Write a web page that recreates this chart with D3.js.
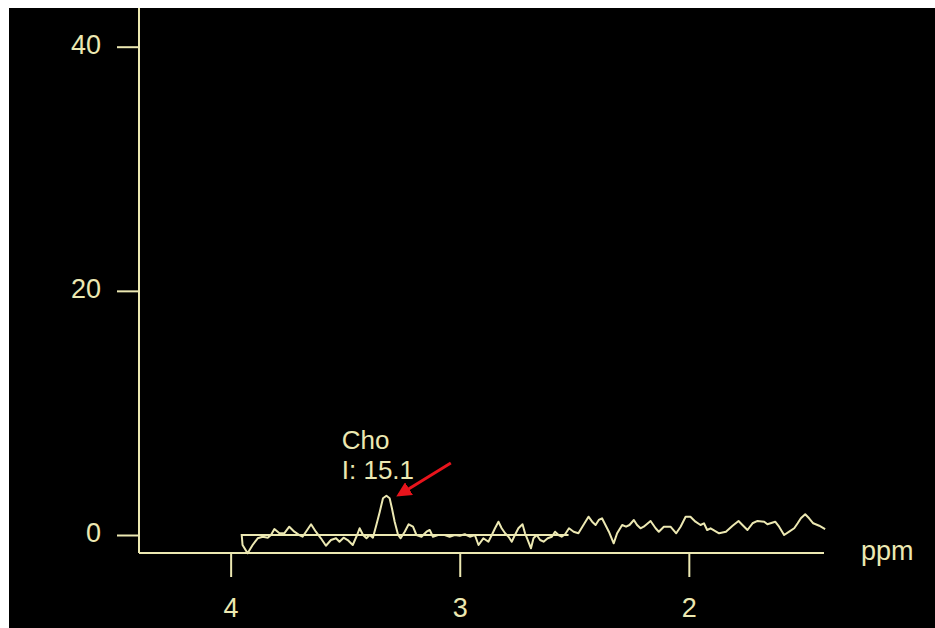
<!DOCTYPE html>
<html>
<head>
<meta charset="utf-8">
<script src="https://cdn.jsdelivr.net/npm/d3@7"></script>
<style>
  body { margin: 0; background: #fff; }
  text { font-family: "Liberation Sans", Arial, sans-serif; fill: #ece8b2; }
</style>
</head>
<body>
<svg id="chart" width="935" height="628"></svg>
<script>
// chemical shift (ppm) and signal intensity
var ppm = [3.952, 3.948, 3.926, 3.904, 3.882, 3.860, 3.838, 3.824, 3.809, 3.787,
  3.766, 3.744, 3.722, 3.700, 3.686, 3.671, 3.649, 3.628, 3.606, 3.584,
  3.562, 3.540, 3.525, 3.507, 3.489, 3.467, 3.448, 3.437, 3.422, 3.407,
  3.393, 3.379, 3.364, 3.349, 3.335, 3.320, 3.306, 3.296, 3.284, 3.269,
  3.258, 3.240, 3.223, 3.204, 3.189, 3.167, 3.145, 3.131, 3.117, 3.095,
  3.066, 3.044, 3.022, 3.000, 2.978, 2.956, 2.934, 2.918, 2.897, 2.875,
  2.860, 2.846, 2.831, 2.817, 2.802, 2.787, 2.773, 2.759, 2.744, 2.726,
  2.715, 2.703, 2.689, 2.678, 2.664, 2.649, 2.634, 2.616, 2.598, 2.584,
  2.569, 2.555, 2.540, 2.523, 2.503, 2.482, 2.460, 2.438, 2.422, 2.407,
  2.393, 2.379, 2.364, 2.349, 2.328, 2.313, 2.291, 2.274, 2.259, 2.240,
  2.226, 2.211, 2.197, 2.167, 2.145, 2.131, 2.109, 2.080, 2.055, 2.036,
  2.014, 1.993, 1.971, 1.949, 1.934, 1.920, 1.905, 1.868, 1.838, 1.809,
  1.783, 1.766, 1.744, 1.722, 1.700, 1.671, 1.657, 1.623, 1.606, 1.584,
  1.562, 1.540, 1.525, 1.511, 1.492, 1.475, 1.457, 1.431, 1.405]
var intensity = [0.08, -0.82, -1.50, -0.82, -0.27, -0.14, -0.22, 0.00, 0.49, 0.14,
  0.14, 0.68, 0.27, 0.00, -0.14, 0.27, 0.88, 0.27, -0.27, -0.88,
  -0.41, -0.27, -0.55, -0.22, -0.41, -0.82, 0.00, 0.55, 0.00, -0.27,
  0.00, -0.22, 0.82, 1.91, 3.01, 3.22, 3.01, 2.19, 1.09, 0.00,
  -0.27, 0.27, 0.88, 0.68, 0.00, -0.14, 0.27, 0.41, -0.14, 0.00,
  0.00, -0.14, 0.00, -0.06, 0.06, -0.14, 0.00, -0.82, -0.27, -0.55,
  0.00, 0.55, 1.09, 0.55, 0.14, -0.14, -0.55, 0.00, 0.55, 0.88,
  0.14, -0.41, -1.09, -0.27, 0.00, -0.41, -0.55, -0.27, -0.14, 0.27,
  0.00, -0.14, 0.06, 0.55, 0.27, 0.14, 0.82, 1.50, 1.09, 0.82,
  1.23, 1.37, 0.82, 0.27, -0.68, 0.14, 0.82, 0.68, 0.82, 1.23,
  0.82, 0.55, 0.68, 1.15, 0.55, 0.27, 0.68, 0.68, 0.14, 0.68,
  1.50, 1.50, 1.09, 0.82, 0.96, 0.41, 0.55, 0.14, 0.27, 0.76,
  1.15, 0.82, 0.41, 0.96, 1.15, 1.09, 0.88, 1.09, 0.68, 0.00,
  0.27, 0.55, 0.96, 1.37, 1.70, 1.37, 0.96, 0.76, 0.49]

var ppmDomain = [4.40, 1.41]
var xTicks = [4, 3, 2]
var yTicks = [0, 20, 40]
var baselineRange = [3.952, 2.525]

var peakName = 'Cho'
var peakLabel = 'I: 15.1'
var labelAt = [3.515, 7.04]
var arrowFrom = [3.039, 5.90]
var arrowTo = [3.266, 3.28]

var ink = '#ece8b2'
var svg = d3.select('#chart')

svg.append('rect').attr('x', 9).attr('y', 8).attr('width', 926).attr('height', 620).attr('fill', '#000')

var x = d3.scaleLinear().domain(ppmDomain).range([139, 824])
var y = d3.scaleLinear().domain([0, 40]).range([535, 46.7])
var axisY = 553

// axis lines
svg.append('line')
  .attr('x1', x.range()[0]).attr('x2', x.range()[0])
  .attr('y1', 8).attr('y2', axisY)
  .attr('stroke', ink).attr('stroke-width', 2)
svg.append('line')
  .attr('x1', x.range()[0]).attr('x2', x.range()[1])
  .attr('y1', axisY).attr('y2', axisY)
  .attr('stroke', ink).attr('stroke-width', 2)

var xAxis = svg.append('g')
  .attr('transform', 'translate(0,' + axisY + ')')
  .call(d3.axisBottom(x).tickValues(xTicks).tickFormat(d3.format('d')).tickSize(24).tickPadding(21))
xAxis.select('.domain').remove()

var yAxis = svg.append('g')
  .attr('transform', 'translate(' + x.range()[0] + ',0)')
  .call(d3.axisLeft(y).tickValues(yTicks).tickSize(22).tickPadding(16))
yAxis.select('.domain').remove()

svg.selectAll('.tick line').attr('stroke', ink).attr('stroke-width', 2)
svg.selectAll('.tick text')
  .style('font-size', '27px')
  .style('font-family', '"Liberation Sans", Arial, sans-serif')
  .attr('fill', ink)
xAxis.selectAll('.tick text').attr('dy', '0.71em')
yAxis.selectAll('.tick text').attr('dy', '0.25em')

svg.append('text')
  .attr('x', 861).attr('y', 560)
  .style('font-size', '27px')
  .text('ppm')

// fitted baseline
svg.append('line')
  .attr('x1', x(baselineRange[0])).attr('x2', x(baselineRange[1]))
  .attr('y1', y(0)).attr('y2', y(0))
  .attr('stroke', ink).attr('stroke-width', 2)

var data = ppm.map(function (p, i) { return { p: p, v: intensity[i] } })

svg.append('path')
  .datum(data)
  .attr('fill', 'none')
  .attr('stroke', ink)
  .attr('stroke-width', 2)
  .attr('stroke-linejoin', 'round')
  .attr('d', d3.line().x(function (d) { return x(d.p) }).y(function (d) { return y(d.v) }))

// peak annotation
svg.append('text')
  .attr('x', x(labelAt[0])).attr('y', y(labelAt[1]))
  .style('font-size', '26px')
  .text(peakName)
svg.append('text')
  .attr('x', x(labelAt[0])).attr('y', y(labelAt[1]) + 30)
  .style('font-size', '26px')
  .text(peakLabel)

svg.append('defs').append('marker')
  .attr('id', 'head')
  .attr('viewBox', '0 0 10 10')
  .attr('refX', 8).attr('refY', 5)
  .attr('markerWidth', 5).attr('markerHeight', 5)
  .attr('orient', 'auto')
  .append('path')
  .attr('d', 'M0,0 L10,5 L0,10 Z')
  .attr('fill', '#e8141c')

svg.append('line')
  .attr('x1', x(arrowFrom[0])).attr('y1', y(arrowFrom[1]))
  .attr('x2', x(arrowTo[0])).attr('y2', y(arrowTo[1]))
  .attr('stroke', '#e8141c').attr('stroke-width', 3)
  .attr('marker-end', 'url(#head)')
</script>
</body>
</html>
